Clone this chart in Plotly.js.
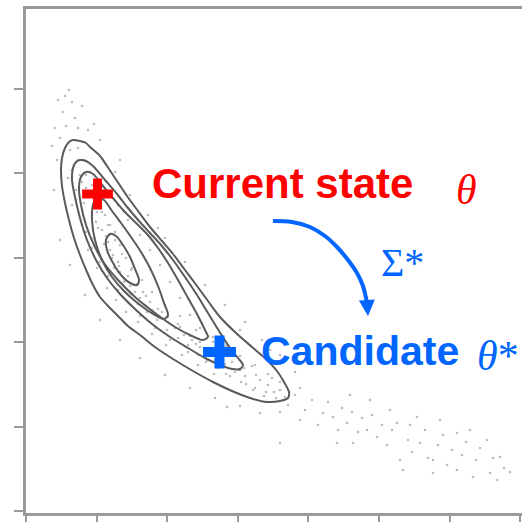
<!DOCTYPE html>
<html>
<head>
<meta charset="utf-8">
<script src="https://cdn.plot.ly/plotly-3.0.1.min.js"></script>
<style>
html, body { margin: 0; padding: 0; overflow: hidden; background: #fff; }
#chart { width: 540px; height: 523px; }
</style>
</head>
<body>
<div id="chart"></div>
<script>
// Samples (gray dots)
const sampleX = [43,32,37,49,29,56,40,62,26,68,34,46,52,74,39,31,28,
  44,52,48,58,42,54,64,50,60,46,58,69,54,66,76,60,72,82,66,78,89,74,86,96,82,94,106,92,104,116,102,114,126,114,126,139,129,142,154,144,158,170,162,174,187,180,194,206,200,214,226,220,234,246,240,254,250,
  92,99,109,84,80,70,119,134,149,166,184,199,219,62,56,68,88,102,120,136,152,170,189,209,229,
  89,104,122,139,159,179,199,219,236,254,269,274,94,132,214,244,
  34,44,59,74,94,114,139,164,189,214,201,234,254,
  262,269,274,279,286,292,297,302,307,312,316,321,326,327,332,336,341,346,351,356,311,254,361,366,371,374,377,382,386,391,394,399,402,407,407,412,417,421,426,431,431,436,440,447,450,454,461,464,467,471,474,478,484,344,364,384,414,444,324,
  74,79,71,84,76,89,82,94,87,100,93,105,98,111,105,117,112,124,121,132,131,142,141,154,152,164,162,174,172,185,181,196,192,206,204,218,215,230,227,242,238,248,259,
  66,60,70,52,46,50,56,62,71,81,90,100,112,126,140,156,172,188,
  84,92,102,114,124,134,144,154,164,174,187,200,214,229,242,254];
const sampleY = [421,411,399,393,383,405,385,381,365,387,373,409,383,371,415,351,321,
  361,363,346,351,333,336,339,321,323,306,308,311,293,296,299,279,283,286,263,267,271,249,253,257,235,239,243,221,225,231,209,213,219,195,201,206,183,189,195,171,176,181,159,164,169,149,153,157,137,141,145,127,131,133,119,121,113,
  249,231,219,261,275,289,206,193,183,171,159,147,135,316,329,273,243,235,215,199,187,167,151,139,123,
  339,316,296,273,249,226,206,189,171,156,139,123,351,283,181,161,
  271,246,216,191,171,153,136,123,113,105,104,98,99,
  106,116,91,101,111,86,98,109,94,81,103,88,99,68,79,93,81,96,74,86,68,68,66,81,88,51,41,71,59,94,68,81,53,51,38,66,76,46,61,78,41,56,69,34,51,63,71,38,53,31,54,43,39,111,101,86,91,81,116,
  306,296,299,286,281,279,269,266,256,253,245,241,229,227,217,219,207,209,199,202,191,194,181,184,173,175,166,169,156,163,151,159,143,149,135,143,129,136,121,126,115,119,114,
  326,336,331,351,341,311,286,261,243,223,211,199,189,177,166,156,146,137,
  316,306,291,276,261,246,229,213,196,183,174,165,155,146,137,129];

// Density contour levels (outer to inner)
const c1x = [64,74,81,91,101,112,124,136,147,159,171,182,194,210,226,241,251,258,263,262,254,241,224,206,187,167,147,129,114,102,94,84,74,67,61,54,48,43,39,36,35,36,39,43,47,54,60,64];
const c1y = [364,355,345,330,315,300,284,270,257,241,225,210,194,178,164,151,140,129,119,113,110,109,113,120,129,140,152,164,176,185,193,203,214,226,239,256,273,291,308,325,341,353,363,369,371,370,368,364];
const c2x = [54,60,67,79,91,102,113,124,135,147,159,171,182,193,204,212,217,214,206,194,179,162,144,126,109,94,81,70,61,54,49,46,47,50,54];
const c2y = [351,350,345,331,317,303,290,278,266,251,234,216,198,180,163,153,146,142,142,146,153,163,174,187,202,217,233,251,271,293,314,331,343,349,351];
const c3x = [60,67,77,87,97,109,121,132,142,152,162,172,179,182,177,166,149,129,109,92,78,68,60,55,53,55,60];
const c3y = [339,337,325,313,301,289,277,263,248,231,213,195,181,174,171,175,184,198,214,231,248,266,286,306,323,334,339];
const c4x = [71,78,86,95,105,115,124,132,138,142,138,129,114,99,86,76,69,66,67,71];
const c4y = [313,311,300,288,274,259,243,225,208,196,192,196,206,219,234,251,271,291,306,313];
const c5x = [84,90,97,104,109,113,111,104,95,87,81,80,84];
const c5y = [277,275,266,254,242,231,226,228,236,248,261,271,277];

// States
const currentX = [71.5], currentY = [317];
const candidateX = [193.5], candidateY = [159];

// Proposal arrow path
const arrowX = [247,266,284,299,311,322,331,337,340,341];
const arrowY = [290,289,284,275,264,251,238,225,213,209];
const arrowTip = [342, 195];

const contourLine = {color: '#5a5a5a', width: 2, shape: 'spline', smoothing: 0.8};
const traces = [
  {x: sampleX, y: sampleY, mode: 'markers', type: 'scatter',
   marker: {size: 2.6, color: '#bdbdbd'}, hoverinfo: 'skip'},
  {x: c1x, y: c1y, mode: 'lines', type: 'scatter', line: contourLine},
  {x: c2x, y: c2y, mode: 'lines', type: 'scatter', line: contourLine},
  {x: c3x, y: c3y, mode: 'lines', type: 'scatter', line: contourLine},
  {x: c4x, y: c4y, mode: 'lines', type: 'scatter', line: contourLine},
  {x: c5x, y: c5y, mode: 'lines', type: 'scatter', line: contourLine},
  {x: arrowX, y: arrowY, mode: 'lines', type: 'scatter',
   line: {color: '#0066ff', width: 4, shape: 'spline'}},
  {x: currentX, y: currentY, mode: 'markers', type: 'scatter',
   marker: {symbol: 'cross-thin', size: 22, color: '#ff0000', line: {width: 9, color: '#ff0000'}}},
  {x: candidateX, y: candidateY, mode: 'markers', type: 'scatter',
   marker: {symbol: 'cross-thin', size: 23.5, color: '#0066ff', line: {width: 10, color: '#0066ff'}}}
];

const layout = {
  width: 540, height: 523,
  margin: {l: 26, r: 0, t: 9, b: 10},
  showlegend: false,
  paper_bgcolor: '#ffffff', plot_bgcolor: '#ffffff',
  xaxis: {range: [0, 514], tick0: 0, dtick: 70.6, ticks: 'outside', ticklen: 6,
          tickwidth: 2, tickcolor: '#999', showticklabels: false, showgrid: false,
          zeroline: false, showline: true, mirror: true, linecolor: '#9a9a9a', linewidth: 3},
  yaxis: {range: [-2, 502], tick0: 0, dtick: 84.4, ticks: 'outside', ticklen: 9,
          tickwidth: 2, tickcolor: '#999', showticklabels: false, showgrid: false,
          zeroline: false, showline: true, mirror: true, linecolor: '#9a9a9a', linewidth: 3},
  annotations: [
    {x: 256.5, y: 328, xref: 'x', yref: 'y', showarrow: false, text: '<b>Current state</b>',
     font: {family: 'Liberation Sans, Arial, sans-serif', size: 42, color: '#ff0000'}},
    {x: 440.5, y: 321, xref: 'x', yref: 'y', showarrow: false, text: '<i>θ</i>',
     font: {family: 'Liberation Serif, serif', size: 42, color: '#ff0000'}},
    {x: 376, y: 249, xref: 'x', yref: 'y', showarrow: false, text: 'Σ*',
     font: {family: 'Liberation Serif, serif', size: 40, color: '#0066ff'}},
    {x: 333.5, y: 160, xref: 'x', yref: 'y', showarrow: false, text: '<b>Candidate</b>',
     font: {family: 'Liberation Sans, Arial, sans-serif', size: 41, color: '#0066ff'}},
    {x: 472, y: 155, xref: 'x', yref: 'y', showarrow: false, text: '<i>θ</i>*',
     font: {family: 'Liberation Serif, serif', size: 42, color: '#0066ff'}},
    {x: arrowTip[0], y: arrowTip[1], xref: 'x', yref: 'y', axref: 'x', ayref: 'y',
     ax: arrowX[arrowX.length - 1], ay: arrowY[arrowY.length - 1], text: '',
     showarrow: true, arrowhead: 2, arrowsize: 0.8, arrowwidth: 4, arrowcolor: '#0066ff'}
  ]
};

Plotly.newPlot('chart', traces, layout, {displayModeBar: false, staticPlot: true});
</script>
</body>
</html>
